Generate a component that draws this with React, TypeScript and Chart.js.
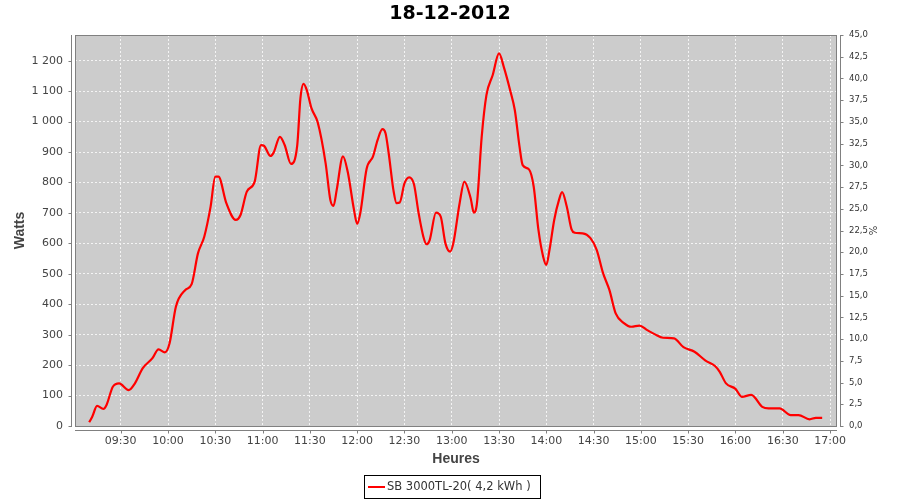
import React, { useEffect, useRef } from "react";
import { Chart, registerables } from "chart.js";

Chart.register(...registerables);

const chartTitle = "18-12-2012";
const seriesLabel = "SB 3000TL-20( 4,2 kWh )";
const xAxisTitle = "Heures";
const yAxisTitle = "Watts";
const y2AxisTitle = "%";

const xTickLabels = [
  "09:30", "10:00", "10:30", "11:00", "11:30", "12:00", "12:30", "13:00",
  "13:30", "14:00", "14:30", "15:00", "15:30", "16:00", "16:30", "17:00",
];
const xRange = ["09:01:00", "17:04:24"];
const wattTicks = [0, 100, 200, 300, 400, 500, 600, 700, 800, 900, 1000, 1100, 1200];
const wattMax = 1284.5;
const percentTicks = [
  0, 2.5, 5, 7.5, 10, 12.5, 15, 17.5, 20, 22.5, 25, 27.5, 30, 32.5, 35, 37.5, 40, 42.5, 45,
];

const sampleTimes = [
  "09:10", "09:12", "09:15", "09:19", "09:21", "09:25", "09:29", "09:35", "09:39", "09:44",
  "09:50", "09:54", "09:58", "10:01", "10:05", "10:11", "10:15", "10:19", "10:23", "10:27",
  "10:30", "10:32", "10:37", "10:43", "10:46", "10:50", "10:55", "10:59", "11:01", "11:05",
  "11:07", "11:11", "11:14", "11:18", "11:22", "11:24", "11:26", "11:28", "11:31", "11:35",
  "11:40", "11:43", "11:45", "11:47", "11:51", "11:54", "11:58", "12:00", "12:02", "12:06",
  "12:10", "12:13", "12:16", "12:18", "12:20", "12:23", "12:25", "12:27", "12:30", "12:33",
  "12:36", "12:39", "12:42", "12:44", "12:46", "12:50", "12:53", "12:56", "12:59", "13:01",
  "13:05", "13:08", "13:12", "13:14", "13:16", "13:19", "13:22", "13:26", "13:30", "13:33",
  "13:37", "13:40", "13:43", "13:45", "13:49", "13:52", "13:55", "13:58", "14:00", "14:02",
  "14:05", "14:08", "14:10", "14:13", "14:16", "14:18", "14:23", "14:28", "14:32", "14:36",
  "14:40", "14:44", "14:49", "14:54", "14:59", "15:04", "15:09", "15:14", "15:21", "15:27",
  "15:34", "15:41", "15:47", "15:50", "15:54", "16:00", "16:04", "16:10", "16:17", "16:21",
  "16:28", "16:35", "16:40", "16:47", "16:51", "16:55",
];
const watts = [
  12, 31, 66, 56, 69, 129, 140, 118, 140, 190,
  222, 252, 242, 272, 392, 447, 466, 567, 622, 720,
  819, 819, 732, 677, 693, 770, 803, 923, 920, 887,
  898, 950, 923, 861, 923, 1076, 1124, 1104, 1044, 997,
  863, 742, 723, 775, 886, 835, 710, 664, 700, 845,
  885, 940, 975, 962, 896, 775, 732, 734, 797, 817,
  795, 699, 622, 597, 611, 701, 688, 600, 573, 600,
  732, 803, 748, 701, 732, 950, 1087, 1153, 1224, 1180,
  1104, 1038, 918, 857, 843, 786, 644, 556, 529, 578,
  677, 742, 768, 720, 646, 635, 633, 617, 578, 502,
  447, 370, 339, 326, 330, 315, 301, 290, 288, 259,
  244, 215, 197, 178, 140, 122, 96, 102, 63, 58,
  58, 36, 36, 22, 27, 27,
];

const toMin = (s: string) => {
  const [h, m, sec] = s.split(":");
  return Number(h) * 60 + Number(m) + (sec ? Number(sec) / 60 : 0);
};

const formatWatts = (v: number) =>
  v >= 1000 ? `${Math.floor(v / 1000)} ${String(v % 1000).padStart(3, "0")}` : String(v);

const TICK_FONT = { family: "DejaVu Sans", size: 11 };
const AXIS_GRAY = "#808080";
const LABEL_COLOR = "#444444";

const framePlugin = {
  id: "jfreeFrame",
  beforeDraw(chart: any) {
    const { ctx, chartArea: a } = chart;
    ctx.save();
    ctx.fillStyle = "#cccccc";
    ctx.fillRect(a.left, a.top, a.right - a.left, a.bottom - a.top);
    ctx.restore();
  },
  afterDraw(chart: any) {
    const { ctx, chartArea: a, scales } = chart;
    ctx.save();
    ctx.strokeStyle = AXIS_GRAY;
    ctx.lineWidth = 1;
    ctx.strokeRect(a.left + 0.5, a.top + 0.5, a.right - a.left - 1, a.bottom - a.top);

    // left axis
    const lx = Math.round(a.left - 4) + 0.5;
    ctx.beginPath();
    ctx.moveTo(lx, a.top);
    ctx.lineTo(lx, a.bottom + 1);
    wattTicks.forEach((v) => {
      const y = Math.round(scales.y.getPixelForValue(v)) + 0.5;
      ctx.moveTo(lx - 3, y);
      ctx.lineTo(lx, y);
    });
    // right axis
    const rx = Math.round(a.right + 4) - 0.5;
    ctx.moveTo(rx, a.top);
    ctx.lineTo(rx, a.bottom + 1);
    percentTicks.forEach((v) => {
      const y = Math.round(scales.y1.getPixelForValue(v)) + 0.5;
      ctx.moveTo(rx, y);
      ctx.lineTo(rx + 3, y);
    });
    // bottom axis
    const by = Math.round(a.bottom + 4) + 0.5;
    ctx.moveTo(a.left, by);
    ctx.lineTo(a.right, by);
    xTickLabels.forEach((t) => {
      const x = Math.round(scales.x.getPixelForValue(toMin(t))) + 0.5;
      ctx.moveTo(x, by);
      ctx.lineTo(x, by + 3);
    });
    ctx.stroke();

    // legend
    const ds = chart.data.datasets[0];
    ctx.font = '11.5px "DejaVu Sans"';
    const w = ctx.measureText(ds.label).width;
    const boxW = Math.round(w + 32);
    const left = Math.round(452 - boxW / 2);
    const top = 475;
    ctx.strokeStyle = "#000000";
    ctx.strokeRect(left + 0.5, top + 0.5, boxW, 23);
    ctx.strokeStyle = ds.borderColor;
    ctx.lineWidth = 2;
    ctx.beginPath();
    ctx.moveTo(left + 4, top + 12);
    ctx.lineTo(left + 21, top + 12);
    ctx.stroke();
    ctx.fillStyle = "#333333";
    ctx.textBaseline = "middle";
    ctx.textAlign = "left";
    ctx.fillText(ds.label, left + 23, top + 12.5);
    ctx.restore();
  },
};

export default function App() {
  const canvasRef = useRef<HTMLCanvasElement | null>(null);

  useEffect(() => {
    if (!canvasRef.current) return;
    const points = sampleTimes.map((t, i) => ({ x: toMin(t), y: watts[i] }));
    const chart = new Chart(canvasRef.current, {
      type: "line",
      data: {
        datasets: [
          {
            label: seriesLabel,
            data: points,
            borderColor: "#ff0000",
            backgroundColor: "#ff0000",
            borderWidth: 2.2,
            pointRadius: 0,
            cubicInterpolationMode: "monotone",
            yAxisID: "y",
            xAxisID: "x",
          },
        ],
      },
      options: {
        responsive: false,
        animation: false,
        layout: { padding: 0 },
        plugins: {
          legend: { display: false },
          tooltip: { enabled: false },
          title: {
            display: true,
            text: chartTitle,
            color: "#000000",
            font: { family: "DejaVu Sans", size: 19, weight: "bold" },
            padding: { top: 2.3, bottom: 9.9 },
          },
        },
        scales: {
          x: {
            type: "linear",
            position: "bottom",
            min: toMin(xRange[0]),
            max: toMin(xRange[1]),
            afterBuildTicks: (s: any) => {
              s.ticks = xTickLabels.map((t) => ({ value: toMin(t) }));
            },
            afterFit: (s: any) => {
              s.height = 74;
            },
            ticks: {
              autoSkip: false,
              maxRotation: 0,
              color: LABEL_COLOR,
              font: TICK_FONT,
              padding: 9,
              callback: (v: any) => {
                const idx = xTickLabels.findIndex((t) => Math.abs(toMin(t) - v) < 0.01);
                return idx >= 0 ? xTickLabels[idx] : "";
              },
            },
            grid: { color: "#f4f4f4", lineWidth: 1, drawTicks: false },
            border: { display: false, dash: [2, 2] },
            title: {
              display: true,
              text: xAxisTitle,
              color: LABEL_COLOR,
              font: { family: "Liberation Sans", size: 14, weight: "bold" },
              padding: { top: 0, bottom: 32.3 },
            },
          },
          y: {
            type: "linear",
            position: "left",
            min: 0,
            max: wattMax,
            afterBuildTicks: (s: any) => {
              s.ticks = wattTicks.map((v) => ({ value: v }));
            },
            afterFit: (s: any) => {
              s.width = 75;
            },
            ticks: {
              autoSkip: false,
              color: LABEL_COLOR,
              font: TICK_FONT,
              padding: 12,
              callback: (v: any) => formatWatts(Number(v)),
            },
            grid: { color: "#f4f4f4", lineWidth: 1, drawTicks: false },
            border: { display: false, dash: [2, 2] },
            title: {
              display: true,
              text: yAxisTitle,
              color: LABEL_COLOR,
              font: { family: "Liberation Sans", size: 14, weight: "bold" },
              padding: { top: 11.6, bottom: 0 },
            },
          },
          y1: {
            type: "linear",
            position: "right",
            min: 0,
            max: 45,
            afterBuildTicks: (s: any) => {
              s.ticks = percentTicks.map((v) => ({ value: v }));
            },
            afterFit: (s: any) => {
              s.width = 63;
            },
            ticks: {
              autoSkip: false,
              color: "#333333",
              font: { family: "DejaVu Sans", size: 8.5 },
              padding: 12,
              callback: (v: any) => Number(v).toFixed(1).replace(".", ","),
            },
            grid: { drawOnChartArea: false, drawTicks: false },
            border: { display: false },
            title: {
              display: true,
              text: y2AxisTitle,
              color: "#333333",
              font: { family: "DejaVu Sans", size: 10 },
              padding: { top: 22.5, bottom: 0 },
            },
          },
        },
      } as any,
      plugins: [framePlugin],
    });
    return () => chart.destroy();
  }, []);

  return (
    <div style={{ position: "absolute", left: 0, top: 0, width: 900, height: 500, background: "#ffffff" }}>
      <canvas ref={canvasRef} width={900} height={500} style={{ display: "block" }} />
    </div>
  );
}
